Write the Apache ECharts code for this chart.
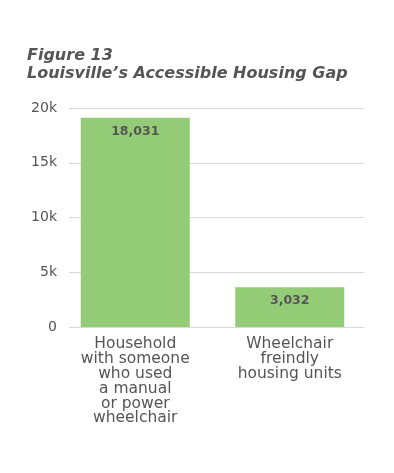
<!DOCTYPE html>
<html><head><meta charset="utf-8">
<script src="https://cdn.jsdelivr.net/npm/echarts@6/dist/echarts.min.js"></script>
<style>html,body{margin:0;padding:0;background:#fff}#c{width:394px;height:473px}</style>
</head><body><div id="c"></div>
<script>
const categories = ["Household\nwith someone\nwho used\na manual\nor power\nwheelchair", "Wheelchair\nfreindly\nhousing units"];
// bar heights as drawn in the reference picture
const barValues = [19100, 3630];
// value labels as printed in the reference
const valueLabels = ["18,031", "3,032"];
const yTicks = [0, 5000, 10000, 15000, 20000];
const titleLines = ["Figure 13", "Louisville’s Accessible Housing Gap"];

const yMin = yTicks[0], yMax = yTicks[yTicks.length - 1], yStep = yTicks[1] - yTicks[0];
const chart = echarts.init(document.getElementById('c'));
chart.setOption({
  animation: false,
  title: {
    text: titleLines.join('\n'),
    left: 22, top: 42,
    textStyle: {fontFamily: 'DejaVu Sans', fontSize: 16, fontWeight: 'bold', fontStyle: 'italic', color: '#555', lineHeight: 18}
  },
  grid: [
    {left: 69, right: 30, top: 108, bottom: 146},
    {left: 58, right: 27, top: 108, bottom: 146}
  ],
  xAxis: [
    {type: 'category', gridIndex: 0, data: categories, show: false},
    {
      type: 'category', gridIndex: 1, data: categories,
      axisLine: {show: false},
      axisTick: {show: false},
      axisLabel: {interval: 0, color: '#555', fontFamily: 'DejaVu Sans', fontSize: 15.5, lineHeight: 14.8, margin: 10}
    }
  ],
  yAxis: [
    {
      type: 'value', gridIndex: 0, min: yMin, max: yMax, interval: yStep,
      axisLabel: {color: '#555', fontFamily: 'DejaVu Sans', fontSize: 14, margin: 12,
        formatter: v => v === 0 ? '0' : (v/1000) + 'k'},
      splitLine: {lineStyle: {color: '#d9d9d9'}},
      axisLine: {show: false}, axisTick: {show: false}
    },
    {type: 'value', gridIndex: 1, min: yMin, max: yMax, interval: yStep, show: false, splitLine: {show: false}}
  ],
  series: [{
    type: 'bar', xAxisIndex: 1, yAxisIndex: 1, data: barValues, barWidth: 109,
    itemStyle: {color: '#93cb77'},
    label: {show: true, position: 'insideTop', distance: 7, color: '#555', fontFamily: 'DejaVu Sans', fontSize: 12.5, fontWeight: 'bold',
      formatter: p => valueLabels[p.dataIndex]}
  }]
});
</script></body></html>
